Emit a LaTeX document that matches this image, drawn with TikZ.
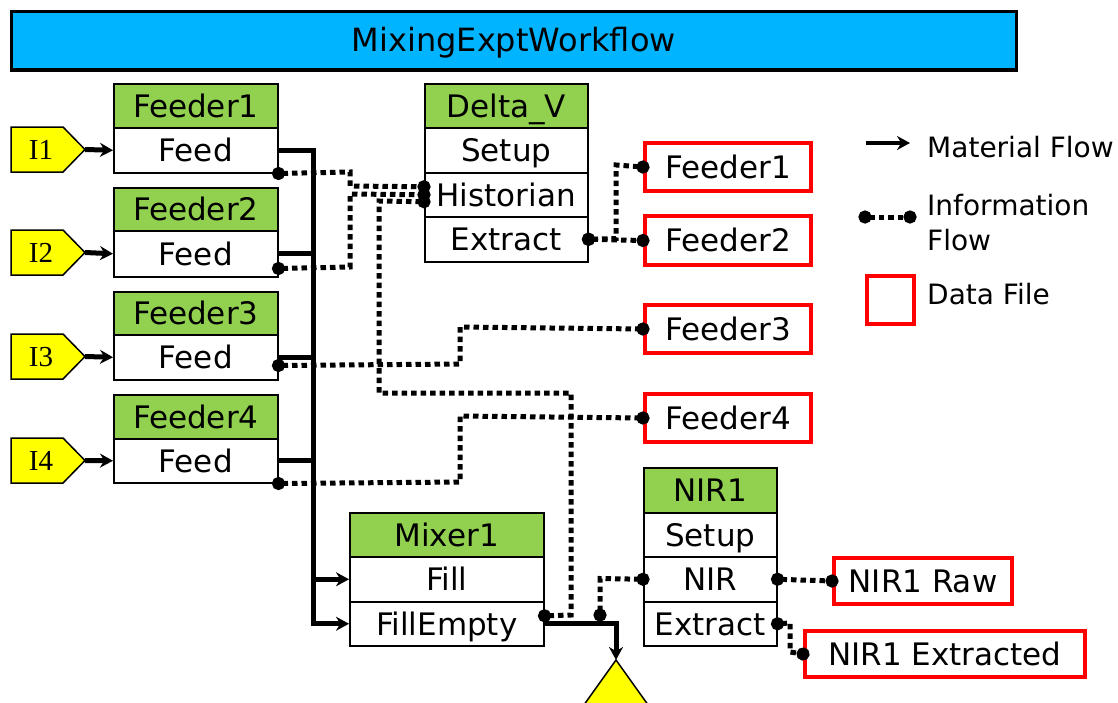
\documentclass[tikz,border=0pt]{standalone}
\usepackage{fontspec}
\setmainfont{DejaVu Sans}
\newfontfamily\tagfont{Liberation Serif}
\usetikzlibrary{arrows.meta}
\definecolor{hdrgreen}{HTML}{92D050}
\definecolor{titleblue}{HTML}{00B4FF}
\definecolor{tagyellow}{HTML}{FFFF00}
\definecolor{filered}{HTML}{FF0000}
\begin{document}
\begin{tikzpicture}[x=1pt,y=-1pt,
  cell/.style={draw=black, line width=1.5pt, fill=white, anchor=north west, inner sep=0pt,
    font=\fontsize{31}{31}\selectfont, text height=22.6pt, text depth=0pt},
  hdr/.style={cell, fill=hdrgreen},
  datafile/.style={draw=filered, line width=4pt, fill=white, anchor=north west, inner sep=0pt,
    font=\fontsize{31}{31}\selectfont, text height=22.6pt, text depth=0pt},
  legtext/.style={anchor=west, inner sep=0pt, font=\fontsize{28}{28}\selectfont, text height=20.4pt, text depth=0pt},
  tagshape/.style={draw=black, line width=1.5pt, fill=tagyellow, line join=miter},
  tagtext/.style={inner sep=0pt, font=\tagfont\fontsize{29}{29}\selectfont, text height=19pt, text depth=0pt},
  mat/.style={line width=5pt, line join=miter},
  matarr/.style={mat, -{Stealth[length=13pt,width=14pt]}},
  info/.style={line width=5pt, dash pattern=on 5.5pt off 4pt,
    {Circle[length=13pt,width=13pt]}-{Circle[length=13pt,width=13pt]},
    shorten <=-6.5pt, shorten >=-6.5pt}]
\useasboundingbox (0,0) rectangle (1118,702);

% title
\node[draw=black, line width=2.5pt, fill=titleblue, anchor=north west, minimum width=1005pt, minimum height=58pt,
  inner sep=0pt, font=\fontsize{32}{32}\selectfont, text height=23.3pt, text depth=0pt] (title) at (10,10) {MixingExptWorkflow};
\draw[line width=3.5pt] (title.south west) -- (title.south east);

% feeders
\node[hdr, minimum width=164pt, minimum height=44pt] (f1h) at (113,83) {Feeder1};
\node[cell, minimum width=164pt, minimum height=45pt] (f1feed) at (113,127) {Feed};
\node[hdr, minimum width=164pt, minimum height=43pt] (f2h) at (113,187) {Feeder2};
\node[cell, minimum width=164pt, minimum height=46pt] (f2feed) at (113,230) {Feed};
\node[hdr, minimum width=164pt, minimum height=43pt] (f3h) at (113,291) {Feeder3};
\node[cell, minimum width=164pt, minimum height=45pt] (f3feed) at (113,334) {Feed};
\node[hdr, minimum width=164pt, minimum height=44pt] (f4h) at (113,394) {Feeder4};
\node[cell, minimum width=164pt, minimum height=44pt] (f4feed) at (113,438) {Feed};

% Delta_V
\node[hdr, minimum width=163pt, minimum height=44pt] (dvh) at (424,83) {Delta\_V};
\node[cell, minimum width=163pt, minimum height=45pt] (dvsetup) at (424,127) {Setup};
\node[cell, minimum width=163pt, minimum height=44pt] (dvhist) at (424,172) {Historian};
\node[cell, minimum width=163pt, minimum height=45pt] (dvext) at (424,216) {Extract};

% Mixer1
\node[hdr, minimum width=194pt, minimum height=44pt] (mixh) at (349,512) {Mixer1};
\node[cell, minimum width=194pt, minimum height=45pt] (mixfill) at (349,556) {Fill};
\node[cell, minimum width=194pt, minimum height=44pt] (mixfe) at (349,601) {FillEmpty};

% NIR1
\node[hdr, minimum width=133pt, minimum height=45pt] (nirh) at (643,467) {NIR1};
\node[cell, minimum width=133pt, minimum height=44pt] (nirsetup) at (643,512) {Setup};
\node[cell, minimum width=133pt, minimum height=45pt] (nirnir) at (643,556) {NIR};
\node[cell, minimum width=133pt, minimum height=44pt] (nirext) at (643,601) {Extract};

% data files
\node[datafile, minimum width=166pt, minimum height=48pt] (df1) at (643,141) {Feeder1};
\node[datafile, minimum width=166pt, minimum height=49pt] (df2) at (643,214) {Feeder2};
\node[datafile, minimum width=166pt, minimum height=48pt] (df3) at (643,303) {Feeder3};
\node[datafile, minimum width=166pt, minimum height=48pt] (df4) at (643,392) {Feeder4};
\node[datafile, minimum width=178pt, minimum height=46pt] (dfraw) at (832,556) {NIR1 Raw};
\node[datafile, minimum width=280pt, minimum height=46pt] (dfext) at (803,629) {NIR1 Extracted};

% input tags
\foreach \n/\y in {1/127,2/230,3/334,4/438}{
  \draw[tagshape] (11,\y) -- (63,\y) -- (85,\y+22.5) -- (63,\y+45) -- (11,\y+45) -- cycle;
  \node[tagtext] (i\n) at (41,\y+22.5) {I\n};
  \coordinate (i\n tip) at (85,\y+22.5);
}
\draw[matarr] (i1tip) -- (f1feed.west);
\draw[matarr] (i2tip) -- (f2feed.west);
\draw[matarr] (i3tip) -- (f3feed.west);
\draw[matarr] (i4tip) -- (f4feed.west);

% sink triangle
\coordinate (sink) at (616,660);
\fill[tagyellow] (sink) -- (576,716) -- (656,716) -- cycle;
\draw[line width=1.5pt] (576,716) -- (sink) -- (656,716);

% material flow
\coordinate (busx) at (313,0);
\draw[matarr] (f1feed.east) -| (mixfe.west -| busx) -- (mixfe.west);
\draw[mat] (f2feed.east) -- (f2feed.east -| busx);
\draw[mat] (f3feed.east) -- (f3feed.east -| busx);
\draw[mat] (f4feed.east) -- (f4feed.east -| busx);
\draw[matarr] (mixfill.west -| busx) -- (mixfill.west);
\draw[matarr] (mixfe.east) -| (sink);

% information flow
\draw[info] (f1feed.south east) -- (350,172) -- (350,186) -- ([yshift=8pt]dvhist.west);
\draw[info] ([yshift=9pt]f2feed.south east) -- (350,267) -- (350,194) -- (dvhist.west);
\draw[info] ([yshift=8pt]mixfe.east) -- (571,615) -- (571,393) -- (379,393) -- (379,201) -- ([yshift=-7pt]dvhist.west);
\draw[info] ([yshift=15pt]f3feed.south east) -- (460,364) -- (460,327) -- (df3.west);
\draw[info] (f4feed.south east) -- (460,482) -- (460,416) -- (df4.west);
\draw[info] (dvext.east) -- (df2.west);
\draw[info] (dvext.east) -- (616,238.5) -- (616,165) -- (df1.west);
\coordinate (tap) at (600,615);
\draw[info] (tap) -- (600,578.5) -- (nirnir.west);
\draw[info] (nirnir.east) -- (dfraw.west);
\draw[info] (nirext.east) -- (790,623) -- (790,652) -- (dfext.west);

% legend
\coordinate (lm1) at (866,143);
\coordinate (lm2) at (910,143);
\draw[matarr, line width=4.5pt] (lm1) -- (lm2);
\node[legtext] (lmt) at (927,147) {Material Flow};
\coordinate (li1) at (865,217);
\coordinate (li2) at (910,217);
\draw[info] (li1) -- (li2);
\node[legtext] (lit1) at (927,205) {Information};
\node[legtext] (lit2) at (927,240) {Flow};
\node[draw=filered, line width=4pt, anchor=north west, minimum width=47pt, minimum height=48pt, inner sep=0pt] (ldf) at (865,274) {};
\node[legtext] (ldft) at (927,294) {Data File};
\end{tikzpicture}
\end{document}
